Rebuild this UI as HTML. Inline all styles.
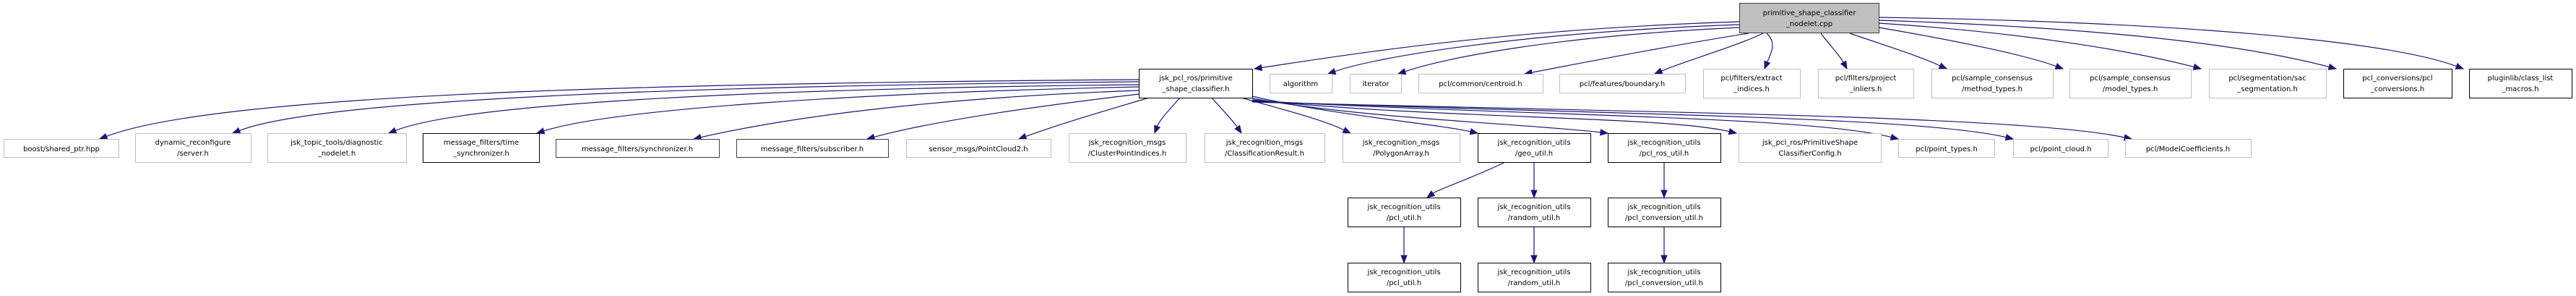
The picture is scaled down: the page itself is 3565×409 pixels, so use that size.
<!DOCTYPE html>
<html><head><meta charset="utf-8"><style>
html,body{margin:0;padding:0;background:#fff;}
svg{display:block;}
text{font-family:"DejaVu Sans","Liberation Sans",sans-serif;font-size:10px;fill:#000;text-anchor:middle;}
</style></head><body>
<svg id="g" width="3565" height="409" viewBox="0 0 3565 409" xmlns="http://www.w3.org/2000/svg">
<g id="edges" fill="none" stroke="#191970" stroke-width="1.2"></g>
<g id="heads" fill="#191970" stroke="#191970"></g>
<g stroke-width="1" fill="#fff">
<!-- root -->
<rect x="2407.5" y="4.5" width="193" height="41" fill="#bfbfbf" stroke="#404040"/>
<text x="2504" y="21">primitive_shape_classifier</text><text x="2504" y="36">_nodelet.cpp</text>
<!-- row1 -->
<rect x="1576.5" y="95.5" width="157" height="40" stroke="#000"/>
<text x="1655" y="111">jsk_pcl_ros/primitive</text><text x="1655" y="126">_shape_classifier.h</text>
<rect x="1757.5" y="102.5" width="86" height="26" stroke="#bfbfbf"/><text x="1800" y="119">algorithm</text>
<rect x="1868.5" y="102.5" width="71" height="26" stroke="#bfbfbf"/><text x="1904" y="119">iterator</text>
<rect x="1963.5" y="102.5" width="172" height="26" stroke="#bfbfbf"/><text x="2049" y="119">pcl/common/centroid.h</text>
<rect x="2158.5" y="102.5" width="174" height="26" stroke="#bfbfbf"/><text x="2245" y="119">pcl/features/boundary.h</text>
<rect x="2357.5" y="95.5" width="134" height="40" stroke="#bfbfbf"/><text x="2424" y="111">pcl/filters/extract</text><text x="2424" y="126">_indices.h</text>
<rect x="2516.5" y="95.5" width="132" height="40" stroke="#bfbfbf"/><text x="2582" y="111">pcl/filters/project</text><text x="2582" y="126">_inliers.h</text>
<rect x="2673.5" y="95.5" width="168" height="40" stroke="#bfbfbf"/><text x="2757" y="111">pcl/sample_consensus</text><text x="2757" y="126">/method_types.h</text>
<rect x="2864.5" y="95.5" width="168" height="40" stroke="#bfbfbf"/><text x="2948" y="111">pcl/sample_consensus</text><text x="2948" y="126">/model_types.h</text>
<rect x="3057.5" y="95.5" width="162" height="40" stroke="#bfbfbf"/><text x="3138" y="111">pcl/segmentation/sac</text><text x="3138" y="126">_segmentation.h</text>
<rect x="3243.5" y="95.5" width="150" height="40" stroke="#000"/><text x="3318" y="111">pcl_conversions/pcl</text><text x="3318" y="126">_conversions.h</text>
<rect x="3417.5" y="95.5" width="142" height="40" stroke="#000"/><text x="3488" y="111">pluginlib/class_list</text><text x="3488" y="126">_macros.h</text>
<!-- row2 -->
<rect x="5.5" y="192.5" width="159" height="25" stroke="#bfbfbf"/><text x="85" y="209">boost/shared_ptr.hpp</text>
<rect x="187.5" y="184.5" width="160" height="40" stroke="#bfbfbf"/><text x="267" y="200">dynamic_reconfigure</text><text x="267" y="215">/server.h</text>
<rect x="370.5" y="184.5" width="192" height="40" stroke="#bfbfbf"/><text x="466" y="200">jsk_topic_tools/diagnostic</text><text x="466" y="215">_nodelet.h</text>
<rect x="585.5" y="184.5" width="161" height="40" stroke="#000"/><text x="666" y="200">message_filters/time</text><text x="666" y="215">_synchronizer.h</text>
<rect x="769.5" y="192.5" width="226" height="25" stroke="#404040"/><text x="882" y="209">message_filters/synchronizer.h</text>
<rect x="1019.5" y="192.5" width="210" height="25" stroke="#404040"/><text x="1124" y="209">message_filters/subscriber.h</text>
<rect x="1254.5" y="192.5" width="200" height="25" stroke="#bfbfbf"/><text x="1354" y="209">sensor_msgs/PointCloud2.h</text>
<rect x="1479.5" y="184.5" width="162" height="40" stroke="#bfbfbf"/><text x="1560" y="200">jsk_recognition_msgs</text><text x="1560" y="215">/ClusterPointIndices.h</text>
<rect x="1667.5" y="184.5" width="166" height="40" stroke="#bfbfbf"/><text x="1750" y="200">jsk_recognition_msgs</text><text x="1750" y="215">/ClassificationResult.h</text>
<rect x="1858.5" y="184.5" width="162" height="40" stroke="#bfbfbf"/><text x="1939" y="200">jsk_recognition_msgs</text><text x="1939" y="215">/PolygonArray.h</text>
<rect x="2045.5" y="184.5" width="156" height="40" stroke="#000"/><text x="2123" y="200">jsk_recognition_utils</text><text x="2123" y="215">/geo_util.h</text>
<rect x="2225.5" y="184.5" width="156" height="40" stroke="#000"/><text x="2303" y="200">jsk_recognition_utils</text><text x="2303" y="215">/pcl_ros_util.h</text>
<rect x="2406.5" y="184.5" width="197" height="40" stroke="#bfbfbf"/><text x="2505" y="200">jsk_pcl_ros/PrimitiveShape</text><text x="2505" y="215">ClassifierConfig.h</text>
<rect x="2627.5" y="192.5" width="133" height="25" stroke="#bfbfbf"/><text x="2694" y="209">pcl/point_types.h</text>
<rect x="2786.5" y="192.5" width="131" height="25" stroke="#bfbfbf"/><text x="2852" y="209">pcl/point_cloud.h</text>
<rect x="2941.5" y="192.5" width="174" height="25" stroke="#bfbfbf"/><text x="3028" y="209">pcl/ModelCoefficients.h</text>
<!-- row3 -->
<rect x="1865.5" y="273.5" width="156" height="40" stroke="#000"/><text x="1943" y="289">jsk_recognition_utils</text><text x="1943" y="304">/pcl_util.h</text>
<rect x="2045.5" y="273.5" width="156" height="40" stroke="#000"/><text x="2123" y="289">jsk_recognition_utils</text><text x="2123" y="304">/random_util.h</text>
<rect x="2225.5" y="273.5" width="156" height="40" stroke="#000"/><text x="2303" y="289">jsk_recognition_utils</text><text x="2303" y="304">/pcl_conversion_util.h</text>
<!-- row4 -->
<rect x="1865.5" y="363.5" width="156" height="40" stroke="#000"/><text x="1943" y="379">jsk_recognition_utils</text><text x="1943" y="394">/pcl_util.h</text>
<rect x="2045.5" y="363.5" width="156" height="40" stroke="#000"/><text x="2123" y="379">jsk_recognition_utils</text><text x="2123" y="394">/random_util.h</text>
<rect x="2225.5" y="363.5" width="156" height="40" stroke="#000"/><text x="2303" y="379">jsk_recognition_utils</text><text x="2303" y="394">/pcl_conversion_util.h</text>
</g>
</svg>
<script>
var E=[
// root -> row1  [sx,sy,c1x,c1y,c2x,c2y,tx,ty]
[2407,30,2100,40,1900,70,1736,95],
[2407,34,2100,45,1900,80,1838,102],
[2407,38,2150,50,2000,80,1935,102],
[2420,46,2300,65,2200,85,2110,102],
[2440,46,2400,65,2330,85,2290,102],
[2445,46,2460,60,2450,75,2442,95],
[2520,46,2530,60,2545,75,2556,95],
[2560,46,2600,60,2650,75,2694,95],
[2600,38,2700,55,2800,75,2855,95],
[2600,32,2800,45,2950,70,3046,95],
[2600,28,2900,38,3100,60,3233,95],
[2600,24,3000,30,3300,55,3409,95],
// header -> row2 left
[1576,110,900,115,300,130,138,192],
[1576,113,1000,118,450,135,322,184],
[1576,117,1100,122,650,140,538,184],
[1576,120,1200,128,850,150,743,184],
[1576,125,1300,135,1100,160,960,192],
[1576,130,1450,145,1300,165,1200,192],
[1590,135,1540,150,1470,170,1410,192],
[1633,135,1620,150,1605,165,1598,184],
[1677,135,1690,150,1705,165,1718,184],
[1718,135,1770,150,1830,165,1869,184],
// header -> right
[1733,133,1850,160,1980,170,2045,184],
[1733,136,1900,165,2100,170,2225,184],
[1733,138,2000,165,2300,160,2403,184],
[1733,139,2100,160,2500,160,2627,192],
[1733,140,2200,158,2650,160,2786,192],
[1733,141,2300,156,2800,160,2950,192],
// lower
[2083,224,2040,245,1990,262,1975,273],
[2123,224,2123,245,2123,260,2123,273],
[2303,224,2303,245,2303,260,2303,273],
[1943,313,1943,335,1943,350,1943,363],
[2123,313,2123,335,2123,350,2123,363],
[2303,313,2303,335,2303,350,2303,363]
];
var ns="http://www.w3.org/2000/svg",ge=document.getElementById('edges'),gh=document.getElementById('heads');
E.forEach(function(e){
 var tx=e[6],ty=e[7],dx=tx-e[4],dy=ty-e[5],L=Math.sqrt(dx*dx+dy*dy);dx/=L;dy/=L;
 var bx=tx-dx*10,by=ty-dy*10;
 var p=document.createElementNS(ns,'path');
 p.setAttribute('d','M'+e[0]+','+e[1]+' C'+e[2]+','+e[3]+' '+e[4]+','+e[5]+' '+bx+','+by);
 ge.appendChild(p);
 var h=document.createElementNS(ns,'polygon');
 h.setAttribute('points',tx+','+ty+' '+(bx-dy*4)+','+(by+dx*4)+' '+(bx+dy*4)+','+(by-dx*4));
 gh.appendChild(h);
});
</script>
</body></html>
